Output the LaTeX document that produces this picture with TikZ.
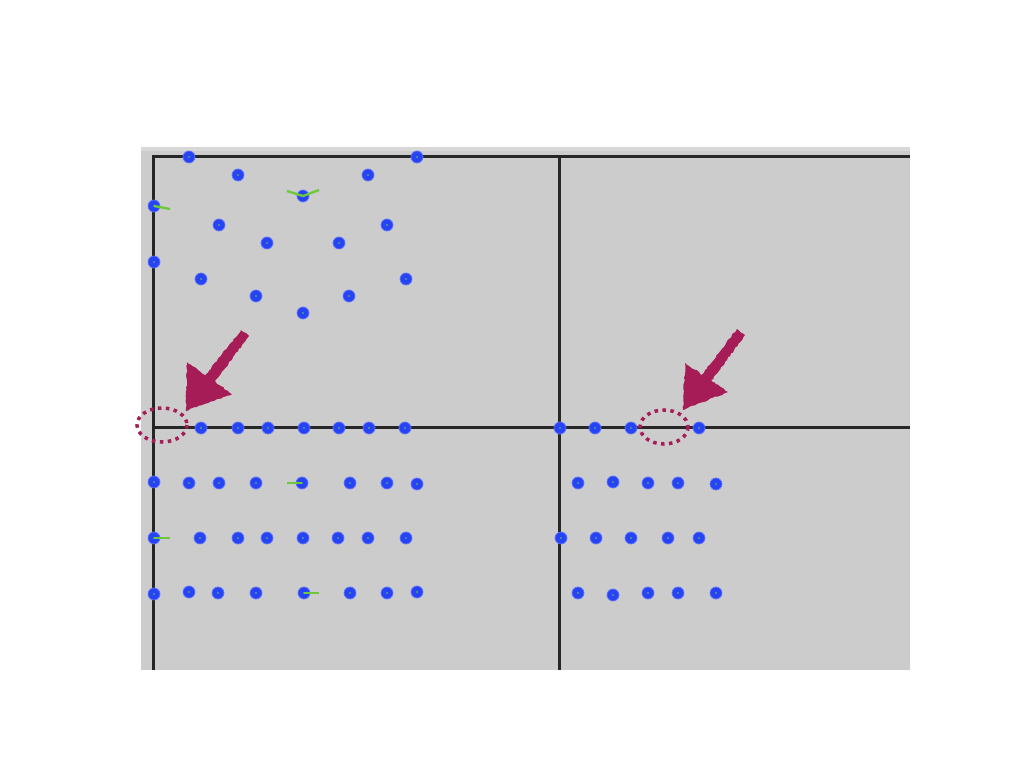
\documentclass[tikz,border=0pt]{standalone}
\usepackage{tikz}
\usetikzlibrary{positioning, calc, decorations.pathmorphing}
\definecolor{panelgray}{RGB}{204,204,204}
\definecolor{panelrim}{RGB}{216,216,216}
\definecolor{spotblue}{RGB}{38,68,245}
\definecolor{spotrim}{RGB}{95,115,250}
\definecolor{tickgreen}{RGB}{110,200,60}
\definecolor{markred}{RGB}{166,28,86}

\tikzset{
    spot/.style={circle, inner sep=0pt, minimum size=0.36cm, fill=spotblue, draw=spotrim, line width=0.6pt,
        path picture={\fill[tickgreen] (path picture bounding box.center) circle (0.025cm);}},
    tick/.style={draw=tickgreen, line width=0.07cm},
    rule/.style={draw=black!85, line width=0.09cm},
    hint/.style={draw=markred, line width=3pt, dash pattern=on 3pt off 3.8pt},
    scribble/.style={markred, decorate, decoration={random steps, segment length=2pt, amplitude=0.6pt}},
}

\begin{document}
\begin{tikzpicture}[x=0.03cm, y=-0.03cm]
    % nền trắng và khung hình
    \fill[white] (0,0) rectangle (1024,768);
    \useasboundingbox (0,0) rectangle (1024,768);

    % tấm nền xám
    \fill[panelgray] (141,148) rectangle (910,670);
    \draw[panelrim, line width=0.12cm] (141,149) -- (910,149);

    % các đường kẻ đen
    \draw[rule] (153,670) -- (153,157) -- (910,157);
    \draw[rule] (559,157) -- (559,670);
    \draw[rule] (153,428) -- (910,428);

    % các điểm vùng trên
    \foreach \x/\y in {189/157, 417/157, 238/175, 368/175, 219/225, 387/225, 267/243, 339/243,
                       154/262, 201/279, 406/279, 256/296, 349/296, 303/313}
        \node[spot] at (\x,\y) {};
    \node[spot] (top) at (303,196) {};
    \node[spot] (side) at (154,206) {};
    \draw[tick] (287,191) -- (top.center) -- (319,190);
    \draw[tick] (side.center) -- (170,209);

    % hàng trên đường kẻ ngang
    \foreach \x in {201, 238, 268, 304, 339, 369, 405, 560, 595, 631, 699}
        \node[spot] at (\x,428) {};

    % các hàng bên trái
    \foreach \x/\y in {154/482, 189/483, 219/483, 256/483, 350/483, 387/483, 417/484}
        \node[spot] at (\x,\y) {};
    \node[spot] (r1) at (302,483) {};
    \draw[tick] (287,483) -- (r1.center);

    \foreach \x in {200, 238, 267, 303, 338, 368, 406}
        \node[spot] at (\x,538) {};
    \node[spot] (r2) at (154,538) {};
    \draw[tick] (r2.center) -- (170,538);

    \foreach \x/\y in {154/594, 189/592, 218/593, 256/593, 350/593, 387/593, 417/592}
        \node[spot] at (\x,\y) {};
    \node[spot] (r3) at (304,593) {};
    \draw[tick] (r3.center) -- (319,593);

    % các hàng bên phải
    \foreach \x/\y in {578/483, 613/482, 648/483, 678/483, 716/484,
                       561/538, 596/538, 631/538, 668/538, 699/538,
                       578/593, 613/595, 648/593, 678/593, 716/593}
        \node[spot] at (\x,\y) {};

    % mũi tên đỏ bên trái
    \fill[scribble] (241,330) -- (249,336) -- (214,383) -- (205,376) -- cycle;
    \fill[scribble] (187,362) -- (232,394) -- (186,411) -- cycle;
    \draw[hint] (162,425) ellipse (25 and 17);

    % mũi tên đỏ bên phải
    \fill[scribble] (737,329) -- (745,335) -- (710,383) -- (701,376) -- cycle;
    \fill[scribble] (685,363) -- (728,392) -- (683,410) -- cycle;
    \draw[hint] (664,427) ellipse (24 and 17);
\end{tikzpicture}
\end{document}
